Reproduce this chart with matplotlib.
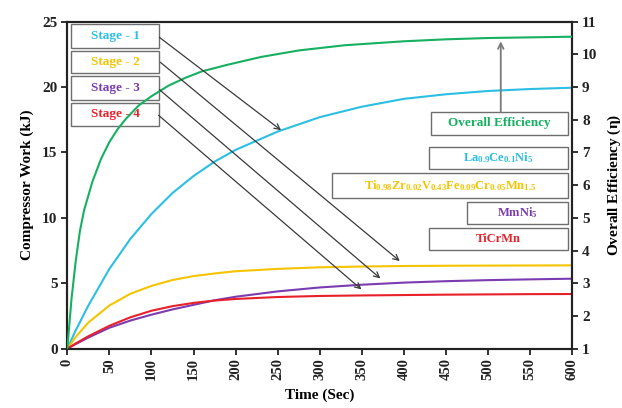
import matplotlib
matplotlib.use("Agg")
import matplotlib.pyplot as plt
from matplotlib.patches import Rectangle

plt.rcParams["font.family"] = ["Liberation Serif", "DejaVu Serif"]
plt.rcParams["font.weight"] = "bold"
plt.rcParams["mathtext.fontset"] = "custom"
plt.rcParams["mathtext.rm"] = "Liberation Serif:bold"
plt.rcParams["mathtext.it"] = "Liberation Serif:bold"
plt.rcParams["mathtext.bf"] = "Liberation Serif:bold"

# Compressor work per stage (kJ) versus time (s)
t_stage = [0, 10, 25, 50, 75, 100, 125, 150, 175, 200, 250, 300, 350, 400, 450, 500, 550, 600]
stage1 = [0, 1.4, 3.3, 6.1, 8.4, 10.3, 11.9, 13.2, 14.3, 15.2, 16.6, 17.7, 18.5, 19.1, 19.45, 19.7, 19.85, 19.95]
stage2 = [0, 0.9, 2.0, 3.3, 4.2, 4.8, 5.25, 5.55, 5.75, 5.92, 6.1, 6.22, 6.28, 6.32, 6.34, 6.35, 6.36, 6.37]
stage3 = [0, 0.35, 0.85, 1.6, 2.15, 2.6, 3.0, 3.35, 3.7, 3.97, 4.38, 4.68, 4.89, 5.05, 5.16, 5.24, 5.3, 5.35]
stage4 = [0, 0.4, 0.95, 1.75, 2.4, 2.9, 3.25, 3.5, 3.68, 3.8, 3.95, 4.03, 4.07, 4.1, 4.13, 4.15, 4.17, 4.18]

# Overall efficiency (eta) versus time (s)
t_eff = [0, 5, 10, 15, 20, 30, 40, 50, 60, 70, 85, 100, 120, 140, 160, 190, 230, 275, 330, 400, 450, 500, 550, 600]
efficiency = [1.0, 2.52, 3.68, 4.6, 5.24, 6.12, 6.8, 7.32, 7.72, 8.04, 8.44, 8.72, 9.04, 9.28,
              9.48, 9.68, 9.92, 10.12, 10.28, 10.4, 10.46, 10.5, 10.52, 10.54]

stage_labels = ["Stage - 1", "Stage - 2", "Stage - 3", "Stage - 4"]
alloy_labels = [r"La$_{0.9}$Ce$_{0.1}$Ni$_{5}$",
                r"Ti$_{0.98}$Zr$_{0.02}$V$_{0.43}$Fe$_{0.09}$Cr$_{0.05}$Mn$_{1.5}$",
                r"MmNi$_{5}$",
                "TiCrMn"]
x_ticks = [0, 50, 100, 150, 200, 250, 300, 350, 400, 450, 500, 550, 600]
y_ticks = [0, 5, 10, 15, 20, 25]
eta_ticks = [1, 2, 3, 4, 5, 6, 7, 8, 9, 10, 11]

# arrow tails (at the stage boxes) and heads (on the curves), data units
arrow_tails = [(109.5, 23.8), (110.5, 21.9), (109.5, 19.8), (108.5, 17.84)]
arrow_heads = [(254, 16.7), (395, 6.7), (372, 5.37), (349.5, 4.53)]

green = "#16b060"
cyan = "#2bbfe3"
yellow = "#f5c400"
purple = "#7a3cb0"
red = "#e8202a"
stage_colors = [cyan, yellow, purple, red]

fig = plt.figure(figsize=(6.22, 4.08), dpi=100)
ax = fig.add_axes([0.1082, 0.1454, 0.8119, 0.8015])
ax2 = ax.twinx()

for ys, c in zip([stage1, stage2, stage3, stage4], stage_colors):
    ax.plot(t_stage, ys, color=c, lw=1.5, solid_capstyle="round")
ax2.plot(t_eff, efficiency, color=green, lw=1.5, zorder=3)

ax.set_xlim(0, 600)
ax.set_ylim(0, 25)
ax2.set_ylim(1, 11)
ax.set_xticks(x_ticks)
ax.set_xticklabels([str(v) for v in x_ticks], rotation=90, fontsize=10.5, fontweight="bold")
ax.set_yticks(y_ticks)
ax.set_yticklabels([str(v) for v in y_ticks], fontsize=11, fontweight="bold")
ax2.set_yticks(eta_ticks)
ax2.set_yticklabels([str(v) for v in eta_ticks], fontsize=11, fontweight="bold")

for a in (ax, ax2):
    for s in a.spines.values():
        s.set_linewidth(1.5)
        s.set_color("#222222")
ax.tick_params(axis="both", direction="out", length=4, width=1.3, colors="#222222", pad=3)
ax2.tick_params(axis="y", direction="out", length=4, width=1.3, colors="#222222", pad=3)

ax.set_xlabel("Time (Sec)", fontsize=11, fontweight="bold", labelpad=6)
ax.set_ylabel("Compressor Work (kJ)", fontsize=11, fontweight="bold", labelpad=6)
ax2.set_ylabel(r"Overall Efficiency ($\eta$)", fontsize=11, fontweight="bold", labelpad=6)


def label_box(axes, x0, y0, x1, y1, text, color, size=9.5):
    axes.add_patch(Rectangle((x0, y0), x1 - x0, y1 - y0, transform=axes.transAxes,
                             facecolor="white", edgecolor="#6e6e6e", lw=1.0, zorder=1))
    axes.text((x0 + x1) / 2, (y0 + y1) / 2, text, transform=axes.transAxes, color=color,
              fontsize=size, fontweight="bold", ha="center", va="center", zorder=2)


stage_boxes = [(0.0073, 0.9196, 0.1816, 0.993),
               (0.0073, 0.8431, 0.1816, 0.9104),
               (0.0073, 0.7605, 0.1816, 0.834),
               (0.0073, 0.681, 0.1816, 0.7514)]
for (x0, y0, x1, y1), lab, c in zip(stage_boxes, stage_labels, stage_colors):
    label_box(ax2, x0, y0, x1, y1, lab, c)

alloy_boxes = [(0.7162, 0.5486, 0.9915, 0.6177),
               (0.5233, 0.4609, 0.9915, 0.5373),
               (0.7915, 0.3813, 0.9915, 0.4486),
               (0.7162, 0.3018, 0.9915, 0.3691)]
label_box(ax2, 0.7196, 0.6535, 0.9921, 0.7239, "Overall Efficiency", green)
for (x0, y0, x1, y1), lab, c in zip(alloy_boxes, alloy_labels, stage_colors):
    label_box(ax2, x0, y0, x1, y1, lab, c, size=9)

for tail, head in zip(arrow_tails, arrow_heads):
    ax2.annotate("", xy=head, xycoords=ax.transData, xytext=tail, textcoords=ax.transData,
                 arrowprops=dict(arrowstyle="->", color="#3a3a3a", lw=0.9,
                                 mutation_scale=10, shrinkA=0, shrinkB=0), zorder=4)

ax2.annotate("", xy=(515, 10.4), xycoords=ax2.transData, xytext=(515, 8.23),
             textcoords=ax2.transData,
             arrowprops=dict(arrowstyle="->", color="#7a7a7a", lw=1.3,
                             mutation_scale=10, shrinkA=0, shrinkB=0), zorder=4)

fig.savefig("out.png", dpi=100)
